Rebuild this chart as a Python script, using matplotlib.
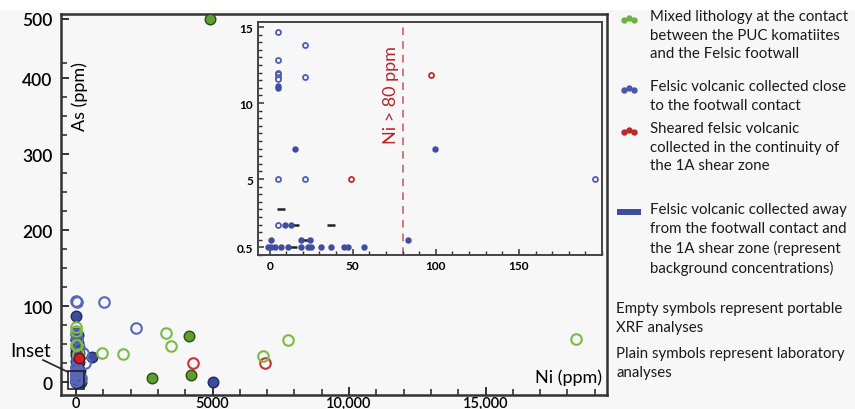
import numpy as np
import matplotlib
matplotlib.use("Agg")
import matplotlib.pyplot as plt
from matplotlib.patches import Rectangle
from matplotlib.ticker import FixedLocator, MultipleLocator, FuncFormatter

plt.rcParams['font.family'] = ['Lato', 'DejaVu Sans']

# ---- main plot data (Ni ppm, As ppm) ----
green_xrf_ni = [0, 0, 0, 50, 70, 950, 1720, 3300, 3480, 6850, 7760, 18300]
green_xrf_as = [72, 67, 49, 49, 37, 38, 37, 64, 47, 34, 55, 57]
green_lab_ni = [4900, 4140, 2800, 4200]
green_lab_as = [500, 61, 5, 9]

blue_xrf_ni = [0, 50, 1025, 2200, 260, 330, 0, 30, 100, 0, 60, 120, 20]
blue_xrf_as = [107, 105, 105, 71, 38, 25, 63, 58, 45, 20, 12, 5, 30]
blue_lab_ni = [0, 40, 0, 80, 20, 0, 60, 10, 100, 0, 50, 30, 0, 90, 20, 0, 60,
               10, 0, 40, 120, 0, 70, 20, 0, 200, 590, 5010, 80, 0, 150, 30,
               10, 60, 110, 20, 70, 0, 40, 90]
blue_lab_as = [87, 60, 55, 52, 48, 45, 42, 40, 38, 35, 32, 30, 28, 25, 22, 20,
               18, 15, 12, 10, 8, 6, 4, 2, 1, 0.5, 33, 0.5, 62, 65, 14, 50,
               57, 47, 27, 24, 17, 9, 3, 11]

red_xrf_ni = [4300, 6920]
red_xrf_as = [25, 25]
red_lab_ni = [100]
red_lab_as = [32]

# ---- inset data (Ni < 200 ppm, As < 15 ppm) ----
in_blue_xrf_ni = [5, 21, 5, 5, 5, 5, 5, 21, 5, 21, 196, 5]
in_blue_xrf_as = [14.7, 13.8, 12.8, 12.0, 11.9, 11.7, 11.6, 11.7, 5.0, 5.0, 5.0, 2.0]
in_blue_lab_ni = [5, 5, 15, 99.5, 9, 13, 1, 19, 24, 83,
                  -1, 1, 3, 7, 11, 19, 23, 25, 31, 37, 45, 47, 57]
in_blue_lab_as = [11.1, 10.97, 7.0, 7.0, 2.0, 2.0, 1.0, 1.0, 1.0, 1.0,
                  0.5, 0.5, 0.5, 0.5, 0.5, 0.5, 0.5, 0.5, 0.5, 0.5, 0.5, 0.5, 0.5]
in_red_xrf_ni = [97, 49]
in_red_xrf_as = [11.85, 5.0]
in_bg_ni = [7, 15, 37, 22, 14, 24]
in_bg_as = [3.0, 2.0, 2.0, 1.0, 0.5, 0.5]

ni_threshold = 80

legend_items = [
    ('#6cb33f', "Mixed lithology at the contact\nbetween the PUC komatiites\nand the Felsic footwall"),
    ('#4a56a8', "Felsic volcanic collected close\nto the footwall contact"),
    ('#c0272d', "Sheared felsic volcanic\ncollected in the continuity of\nthe 1A shear zone"),
    ('#3f4ea0', "Felsic volcanic collected away\nfrom the footwall contact and\nthe 1A shear zone (represent\nbackground concentrations)"),
]
notes = ["Empty symbols represent portable\nXRF analyses",
         "Plain symbols represent laboratory\nanalyses"]

W, H = 855, 410
fig = plt.figure(figsize=(W / 100, H / 100), dpi=100, facecolor='#f7f7f7')
fig.add_artist(Rectangle((0, 1 - 11 / H), 1, 11 / H, transform=fig.transFigure,
                         facecolor='white', edgecolor='none', zorder=0))


def fx(px):
    return px / W


def fy(py):
    return 1 - py / H


# As axis is compressed above 400 so the 500 ppm sample stays on the chart
def fwd(y):
    y = np.asarray(y, float)
    return np.where(y <= 400, y, 400 + (y - 400) * 0.78)


def inv(y):
    y = np.asarray(y, float)
    return np.where(y <= 400, y, 400 + (y - 400) / 0.78)


ax = fig.add_axes([fx(61), fy(396), fx(607) - fx(61), fy(15) - fy(396)])
ax.set_facecolor('#f7f7f7')
ax.set_yscale('function', functions=(fwd, inv))
ax.set_xlim(-550, 19450)
ax.set_ylim(-17, 508)

ms = 7.6
ax.plot(blue_lab_ni + in_blue_lab_ni, blue_lab_as + in_blue_lab_as, 'o', ms=ms,
        mfc='#3d4b9e', mec='#1f2a5e', mew=1.0, zorder=3)
ax.plot(blue_xrf_ni + in_blue_xrf_ni, blue_xrf_as + in_blue_xrf_as, 'o', ms=ms,
        mfc='none', mec='#5a66b8', mew=1.5, zorder=3)
ax.plot(green_xrf_ni, green_xrf_as, 'o', ms=ms, mfc='none', mec='#7cbb42',
        mew=1.5, zorder=4)
ax.plot(green_lab_ni, green_lab_as, 'o', ms=ms, mfc='#5e9e2e', mec='#2d4a15',
        mew=1.0, zorder=4)
ax.plot(red_xrf_ni + in_red_xrf_ni, red_xrf_as + in_red_xrf_as, 'o', ms=ms,
        mfc='none', mec='#c8323a', mew=1.5, zorder=2)
ax.plot(red_lab_ni, red_lab_as, 'o', ms=ms, mfc='#d01e25', mec='#6a1010',
        mew=1.0, zorder=4)

for side in ['left', 'bottom', 'top', 'right']:
    ax.spines[side].set_linewidth(1.8)
    ax.spines[side].set_color('#333333')

ax.xaxis.set_major_locator(FixedLocator([0, 5000, 10000, 15000]))
ax.xaxis.set_minor_locator(MultipleLocator(1000))
ax.xaxis.set_major_formatter(FuncFormatter(
    lambda v, p: '{:,}'.format(int(v)) if v >= 10000 else str(int(v))))
ax.yaxis.set_major_locator(FixedLocator([0, 100, 200, 300, 400, 500]))
ax.yaxis.set_minor_locator(FixedLocator(list(range(0, 426, 25))))
ax.tick_params(axis='both', which='both', direction='in', color='#333333',
               top=False, right=False)
ax.tick_params(which='major', length=6, width=1.4)
ax.tick_params(which='minor', length=4, width=1.2)
ax.tick_params(axis='x', pad=0.5, labelsize=10.5)
ax.tick_params(axis='y', pad=6, labelsize=12.5)
for t in ax.get_xticklabels() + ax.get_yticklabels():
    t.set_fontweight('semibold')

ax.text(fx(80), fy(97), 'As (ppm)', transform=fig.transFigure, rotation=90,
        ha='center', va='center', fontsize=13)
ax.text(fx(602), fy(378), 'Ni (ppm)', transform=fig.transFigure,
        ha='right', va='center', fontsize=13)

# box marking the inset area and its label
ax.add_patch(Rectangle((-290, -9), 580, 24, facecolor='none',
                       edgecolor='#222222', lw=1.2, zorder=5))
fig.add_artist(plt.Line2D([fx(43), fx(68)], [fy(361), fy(373)],
                          color='#222222', lw=1.2))
fig.text(fx(31), fy(352), 'Inset', ha='center', va='center', fontsize=13.5)

# ---- inset ----
ins = fig.add_axes([fx(258), fy(256), fx(602) - fx(258), fy(23) - fy(256)])
ins.set_facecolor('#f7f7f7')
ins.set_xlim(-7, 200)
ins.set_ylim(0, 15.33)
ims = 3.6
ins.plot(in_blue_xrf_ni, in_blue_xrf_as, 'o', ms=ims, mfc='white', mec='#4f5bb0',
         mew=1.3, zorder=3)
ins.plot(in_blue_lab_ni, in_blue_lab_as, 'o', ms=ims, mfc='#3f4ca0',
         mec='#3f4ca0', zorder=3)
ins.plot(in_red_xrf_ni, in_red_xrf_as, 'o', ms=ims, mfc='white', mec='#c0272d',
         mew=1.3, zorder=3)
ins.plot(in_bg_ni, in_bg_as, '_', ms=6, mew=1.8, color='#222222', zorder=2)
ins.axvline(ni_threshold, color='#c7545a', lw=1.1, ls=(0, (5, 4)), zorder=1)
ins.text(ni_threshold - 7, 10.6, 'Ni > 80 ppm', rotation=90, ha='center',
         va='center', color='#b5252a', fontsize=13)

for side in ['left', 'bottom', 'top', 'right']:
    ins.spines[side].set_linewidth(1.4)
    ins.spines[side].set_color('#444444')
ins.xaxis.set_major_locator(FixedLocator([0, 50, 100, 150]))
ins.xaxis.set_minor_locator(MultipleLocator(10))
ins.yaxis.set_major_locator(FixedLocator([0.5, 5, 10, 15]))
ins.yaxis.set_minor_locator(MultipleLocator(0.5))
ins.yaxis.set_major_formatter(FuncFormatter(lambda v, p: '%g' % v))
ins.tick_params(axis='both', which='both', direction='in', color='#333333')
ins.tick_params(which='major', length=4, width=1.1, labelsize=8.5)
ins.tick_params(which='minor', length=3, width=1.0)
for t in ins.get_xticklabels() + ins.get_yticklabels():
    t.set_fontweight('bold')

# ---- legend panel ----
leg = fig.add_axes([0, 0, 1, 1], facecolor='none')
leg.set_xlim(0, W)
leg.set_ylim(H, 0)
leg.axis('off')
fs, lsp = 10.8, 1.42
text_y = [20, 90, 132, 213]
for (color, label), y in zip(legend_items, text_y):
    if color == '#3f4ea0':
        leg.add_patch(Rectangle((617, y - 3), 24, 6, facecolor=color,
                                edgecolor='none'))
    else:
        leg.plot([624, 629, 634], [y + 1, y - 1, y + 1], 'o', ms=4.6,
                 color=color, mec='none')
    leg.text(650, y - 10, label, ha='left', va='top', fontsize=fs,
             linespacing=lsp, color='#1a1a1a')
leg.text(616, 302, notes[0], ha='left', va='top', fontsize=fs, linespacing=lsp,
         color='#1a1a1a')
leg.text(616, 347, notes[1], ha='left', va='top', fontsize=fs, linespacing=lsp,
         color='#1a1a1a')

fig.savefig('out.png', dpi=100, facecolor=fig.get_facecolor())
